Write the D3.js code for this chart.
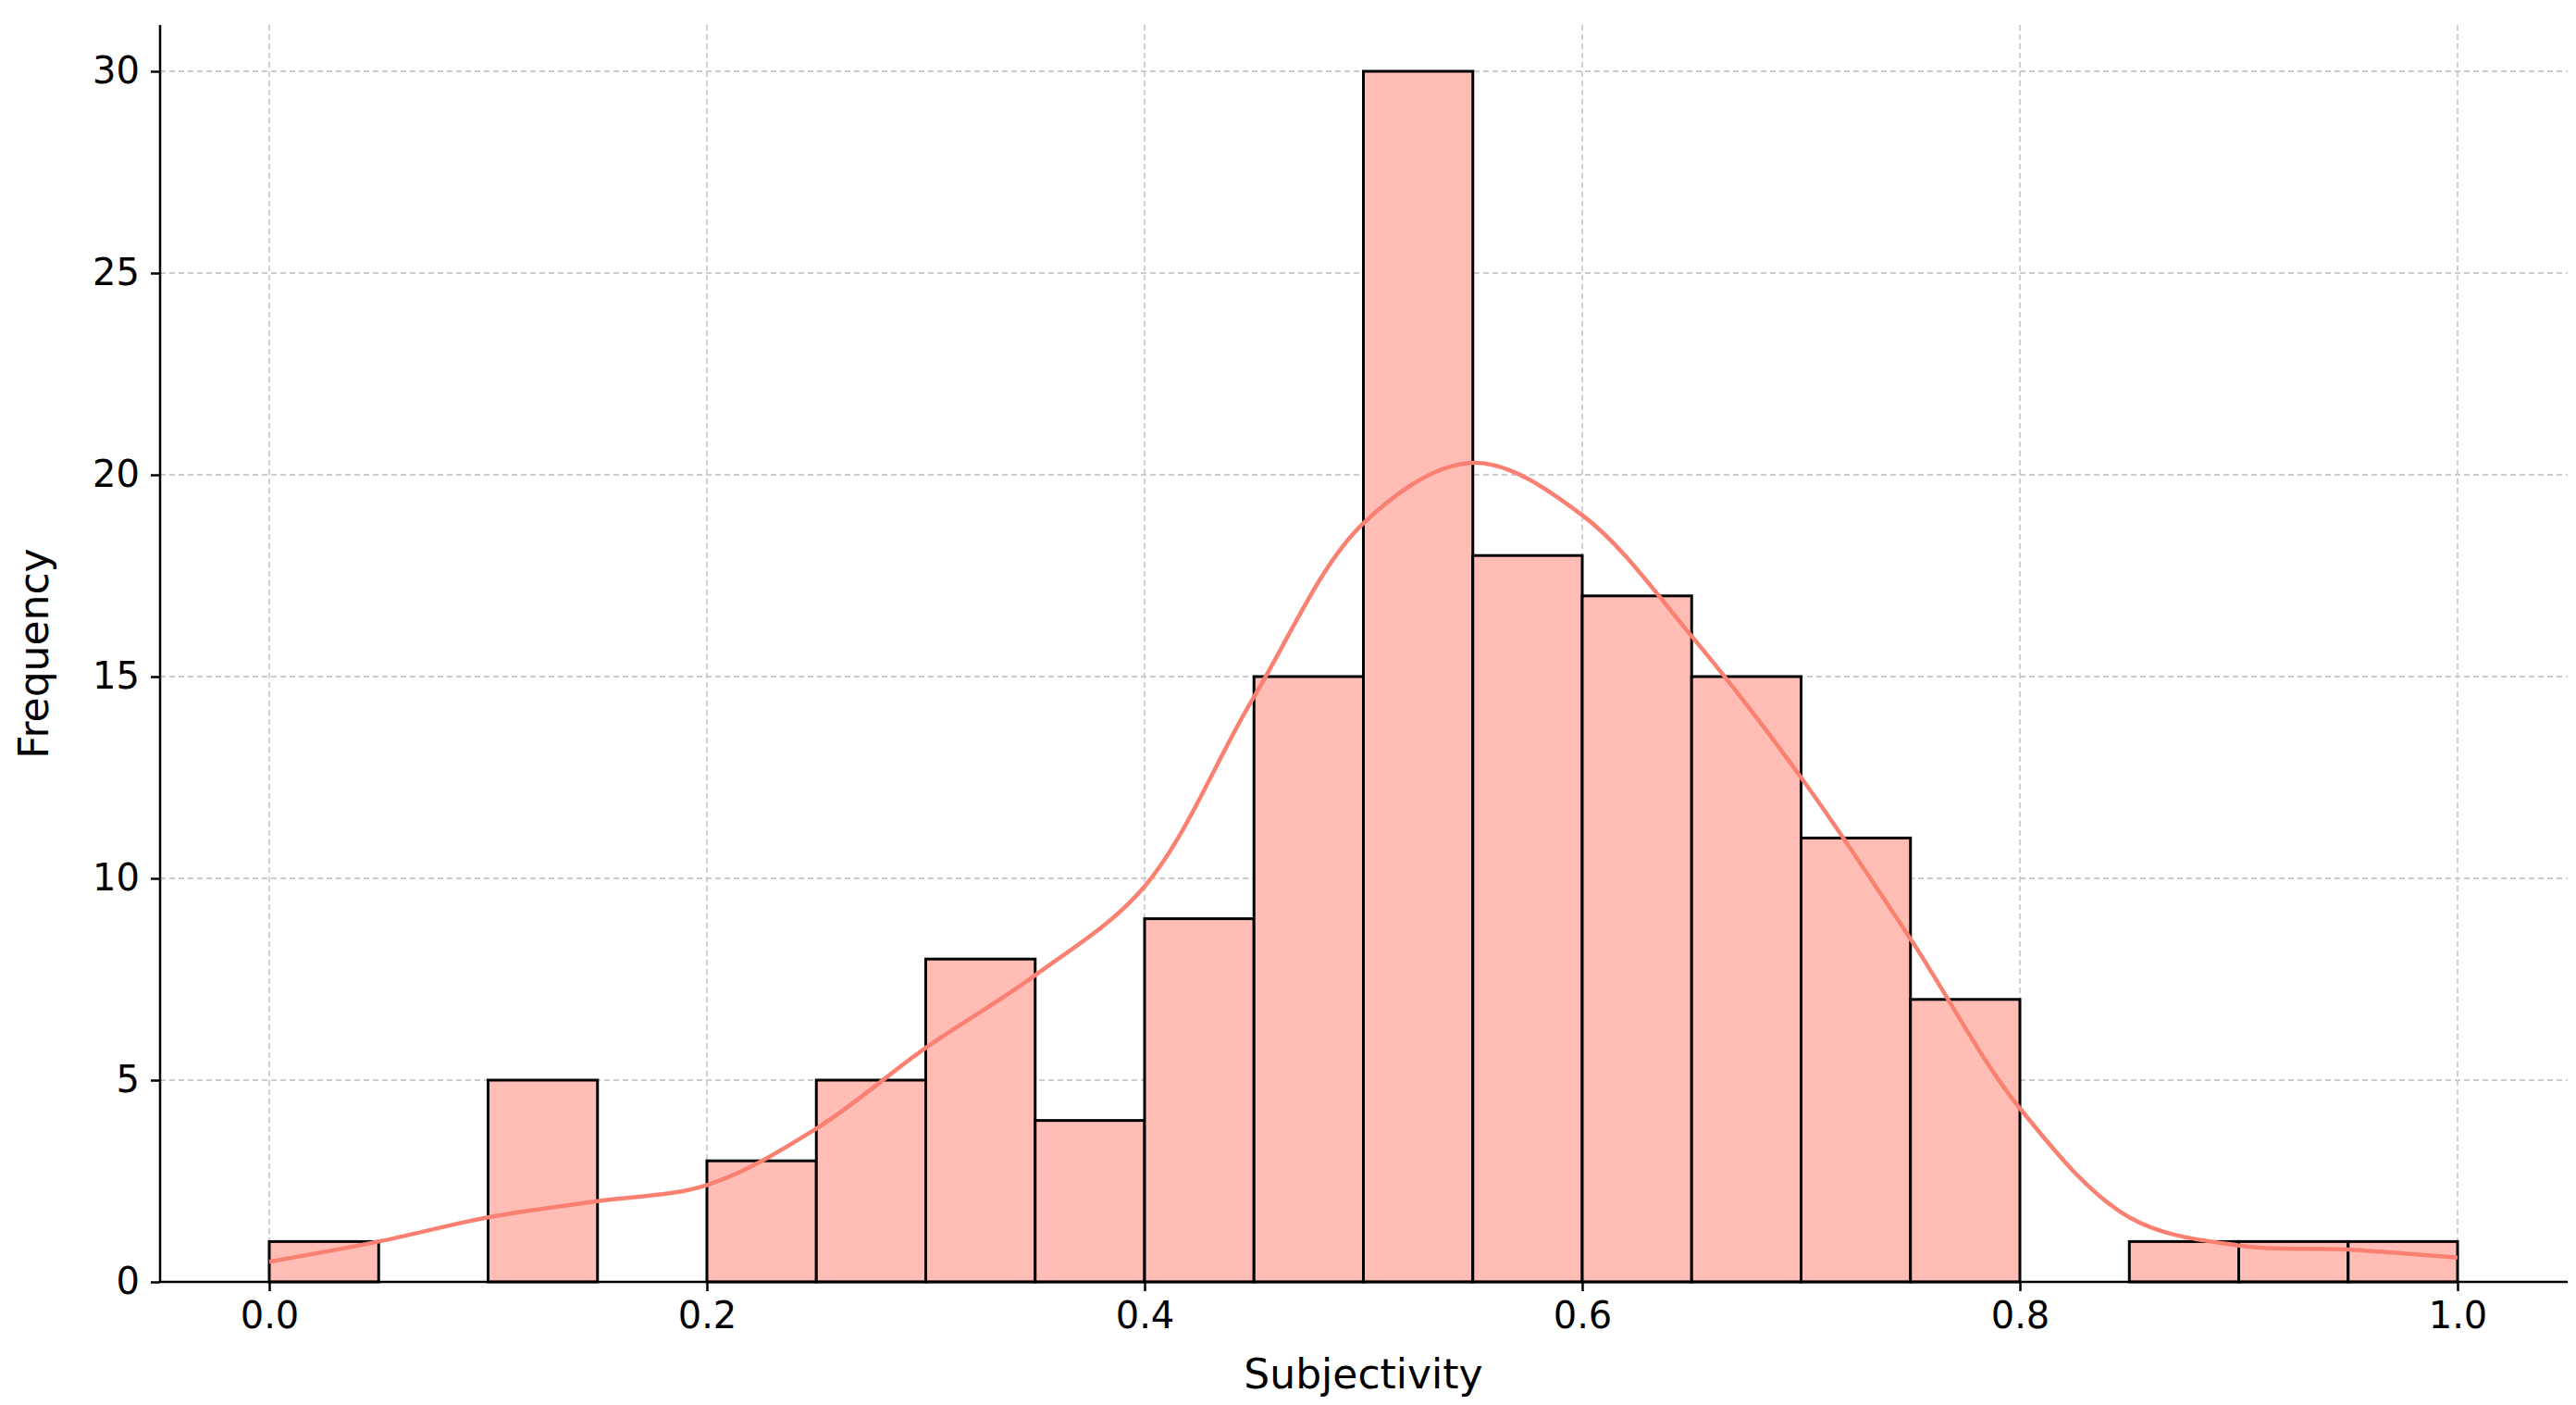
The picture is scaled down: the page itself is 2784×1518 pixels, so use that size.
<!DOCTYPE html>
<html><head><meta charset="utf-8">
<script src="https://cdn.jsdelivr.net/npm/d3@7"></script>
<style>body{margin:0;background:#fff}svg{font-family:"DejaVu Sans",sans-serif}</style>
</head><body><div id="d3"></div>
<script>
const binEdges = d3.range(0, 20).map(i => i * 0.05);
const counts = [1,0,5,0,3,5,8,4,9,15,30,18,17,15,11,7,0,1,1,1];
const kdeX = d3.range(0, 21).map(i => i * 0.05);
const kdeY = [0.5,1.0,1.6,2.0,2.4,3.8,5.8,7.6,9.8,14.5,18.8,20.3,19.0,16.0,12.5,8.5,4.3,1.6,0.9,0.8,0.6];
const xTicks = [0,0.2,0.4,0.6,0.8,1.0];
const yTicks = [0,5,10,15,20,25,30];

const W = 2784, H = 1518;
const svg = d3.select('#d3').append('svg').attr('width', W).attr('height', H);
const mLeft = 173, mRight = 2775, mTop = 27, mBottom = 1385;
const x = d3.scaleLinear().domain([0, 1]).range([291, 2656]);
const y = d3.scaleLinear().domain([0, 30]).range([mBottom, 77]);

// grid
svg.selectAll('.gx').data(xTicks).enter().append('line')
    .attr('x1', d => x(d)).attr('x2', d => x(d)).attr('y1', mTop).attr('y2', mBottom)
    .attr('stroke', '#cccccc').attr('stroke-width', 1.8).attr('stroke-dasharray', '6,4');
svg.selectAll('.gy').data(yTicks).enter().append('line')
    .attr('x1', mLeft).attr('x2', mRight).attr('y1', d => y(d)).attr('y2', d => y(d))
    .attr('stroke', '#cccccc').attr('stroke-width', 1.8).attr('stroke-dasharray', '6,4');

// bars
svg.selectAll('rect').data(counts.map((c, i) => ({x0: binEdges[i], c})).filter(d => d.c > 0))
    .enter().append('rect')
    .attr('x', d => x(d.x0)).attr('width', x(0.05) - x(0))
    .attr('y', d => y(d.c)).attr('height', d => y(0) - y(d.c))
    .attr('fill', '#ffbdb6').attr('stroke', '#000').attr('stroke-width', 3);

// kde
const line = d3.line().x(d => x(d[0])).y(d => y(d[1])).curve(d3.curveCatmullRom);
svg.append('path').datum(kdeX.map((v, i) => [v, kdeY[i]]))
    .attr('d', line).attr('fill', 'none').attr('stroke', '#fa8072').attr('stroke-width', 4.5);

// axes
const xa = svg.append('g').attr('transform', `translate(0,${mBottom})`)
    .call(d3.axisBottom(x).tickValues(xTicks).tickFormat(d3.format('.1f')).tickSize(10).tickPadding(12));
const ya = svg.append('g').attr('transform', `translate(${mLeft},0)`)
    .call(d3.axisLeft(y).tickValues(yTicks).tickSize(10).tickPadding(12));
xa.select('.domain').attr('d', `M${mLeft},0H${mRight}`);
ya.select('.domain').attr('d', `M0,${mTop}V${mBottom}`);
[xa, ya].forEach(a => {
    a.selectAll('path,line').attr('stroke', '#000').attr('stroke-width', 2.5);
    a.selectAll('text').attr('font-size', 40).attr('fill', '#000').attr('font-family', 'DejaVu Sans');
});

svg.append('text').attr('x', x(0.5)).attr('y', 1500).attr('text-anchor', 'middle')
    .attr('font-size', 44).text('Subjectivity');
svg.append('text').attr('transform', `translate(52,${(mTop + mBottom) / 2}) rotate(-90)`)
    .attr('text-anchor', 'middle').attr('font-size', 44).text('Frequency');
</script></body></html>
